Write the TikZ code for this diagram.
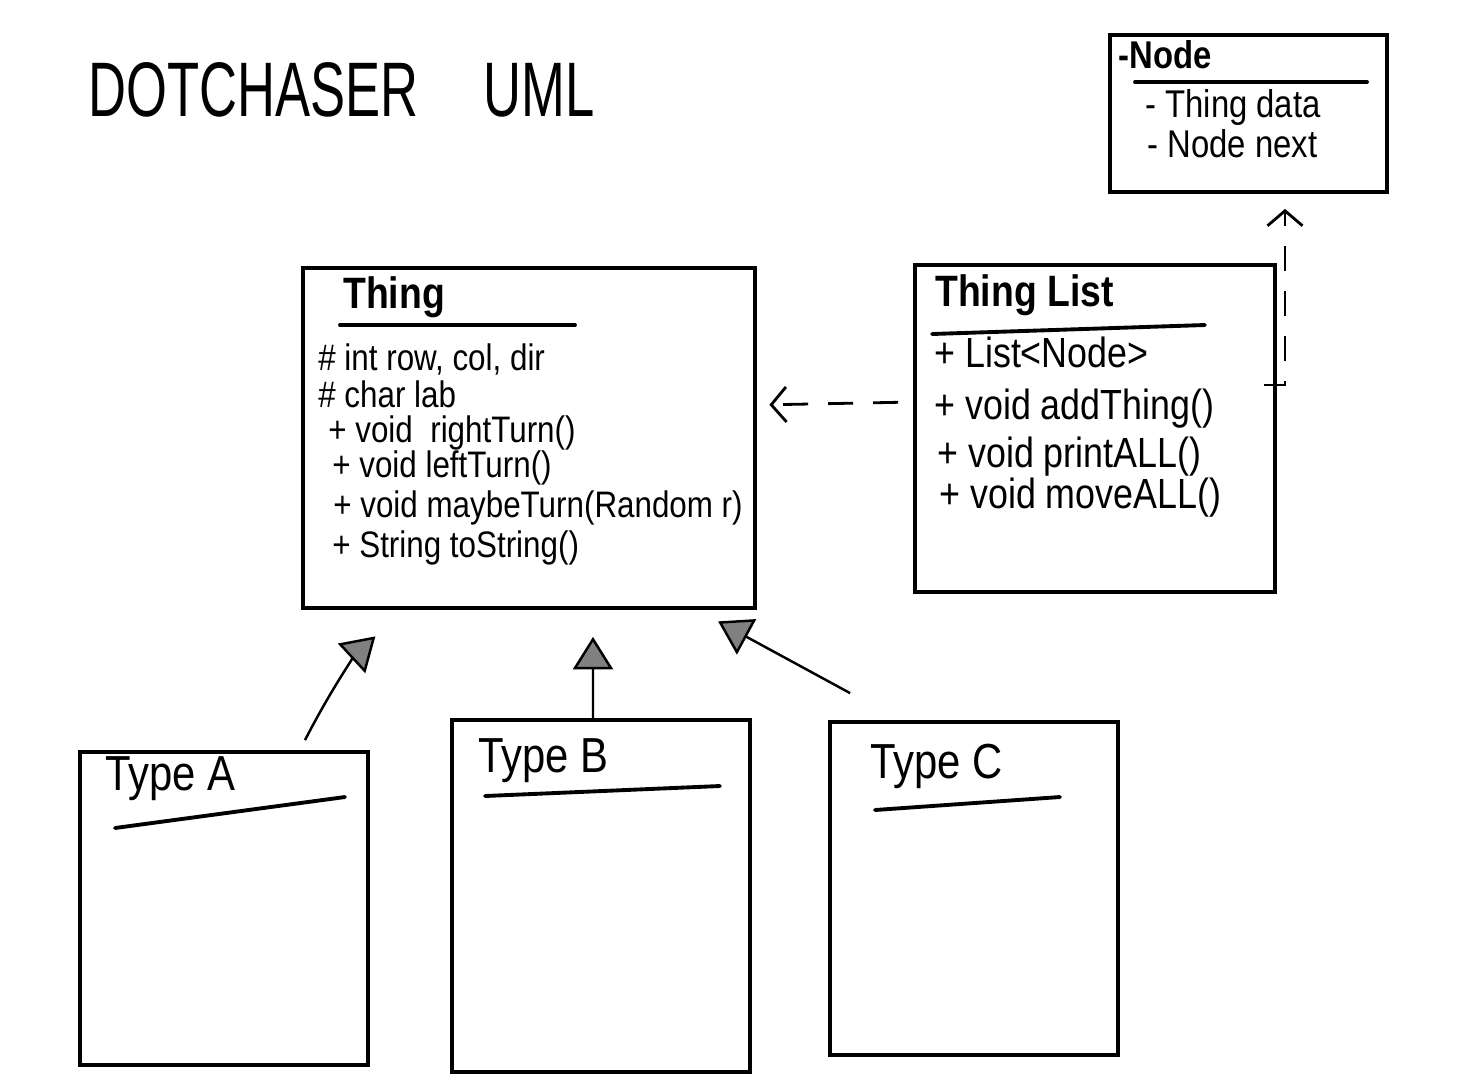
\documentclass[tikz,border=0pt]{standalone}
\usepackage{fontspec}
\setmainfont[FakeStretch=0.85]{Liberation Sans}
\newfontfamily\headingfont[FakeStretch=0.68]{Liberation Sans}
\usetikzlibrary{arrows.meta}

\begin{document}
\begin{tikzpicture}[x=0.02cm, y=-0.02cm,
	classbox/.style={draw, line width=2.2pt, inner sep=0pt},
	divider/.style={line width=2.2pt, line cap=round},
	classname/.style={anchor=base west, inner sep=0pt, font=\fontsize{25}{30}\selectfont\bfseries},
	typename/.style={anchor=base west, inner sep=0pt, font=\fontsize{28}{32}\selectfont},
	member/.style={anchor=base west, inner sep=0pt, font=\fontsize{21}{25}\selectfont},
	dep/.style={dash pattern=on 0.5cm off 0.4cm, line width=1.6pt, -{Straight Barb[length=0.3cm, width=0.7cm]}},
	inherit/.style={line width=1.4pt, -{Triangle[length=0.65cm, width=0.8cm, fill=gray]}}]
	\useasboundingbox (0,0) rectangle (1480,1080);

	% heading
	\node[anchor=west, inner sep=0pt, font=\headingfont\fontsize{44}{50}\selectfont] (heading) at (88,90) {DOTCHASER\hspace{1.3cm}UML};

	% class boxes
	\node[classbox, minimum width=5.54cm, minimum height=3.14cm] (nodebox) at (1248.5,113.5) {};
	\node[classbox, minimum width=9.04cm, minimum height=6.8cm] (thing) at (529,438) {};
	\node[classbox, minimum width=7.2cm, minimum height=6.54cm] (thinglist) at (1095,428.5) {};
	\node[classbox, minimum width=5.76cm, minimum height=6.26cm] (typeA) at (224,908.5) {};
	\node[classbox, minimum width=5.96cm, minimum height=7.04cm] (typeB) at (601,896) {};
	\node[classbox, minimum width=5.76cm, minimum height=6.66cm] (typeC) at (974,888.5) {};

	% names
	\node[anchor=base west, inner sep=0pt, font=\fontsize{22}{26}\selectfont\bfseries] (nodebox-name) at (1118,68) {-Node};
	\node[classname] (thing-name) at (343,308) {Thing};
	\node[classname] (thinglist-name) at (935,306) {Thing List};
	\node[typename] (typeA-name) at (105,790) {Type A};
	\node[typename] (typeB-name) at (478,772) {Type B};
	\node[typename] (typeC-name) at (870,778) {Type C};

	% dividers
	\draw[divider] (1135,82) -- (1367,82);
	\draw[divider] (340,325) -- (575,325);
	\draw[divider] (932,334) -- (1205,325);
	\draw[divider] (115,828) -- (345,797);
	\draw[divider] (485,796) -- (720,786);
	\draw[divider] (875,810) -- (1060,797);

	% members
	\foreach \y/\x/\t [count=\i] in {117/1145/{- Thing data}, 157/1147/{- Node next}}
		\node[member, font=\fontsize{22}{26}\selectfont] (nodebox-m\i) at (\x,\y) {\t};
	\foreach \y/\x/\t [count=\i] in {370/318/{\# int row, col, dir}, 407/318/{\# char lab},
		442/328/{+ void\ \ rightTurn()}, 477/332/{+ void leftTurn()},
		517/333/{+ void maybeTurn(Random r)}, 557/332/{+ String toString()}}
		\node[member] (thing-m\i) at (\x,\y) {\t};
	\foreach \y/\x/\t [count=\i] in {367/934/{+ List<Node>}, 419/934/{+ void addThing()},
		467/937/{+ void printALL()}, 508/939/{+ void moveALL()}}
		\node[member, font=\fontsize{24}{28}\selectfont] (thinglist-m\i) at (\x,\y) {\t};

	% dependencies
	\draw[dep, shorten <=0.3cm, shorten >=0.25cm] ([yshift=0.53cm]thinglist.west) -- ([yshift=0.66cm]thing.east);
	\draw[dep, shorten >=0.3cm] ([xshift=-0.26cm, yshift=0.87cm]thinglist.east) -| ([xshift=0.73cm]nodebox.south);

	% inheritance
	\begin{scope}[inherit]
		\draw[shorten >=0.78cm] ([xshift=1.62cm, yshift=0.2cm]typeA.north) to[bend left=10] ([xshift=-2.5cm]thing.south);
		\draw[shorten >=0.54cm] ([xshift=-0.16cm]typeB.north) -- ([xshift=1.28cm]thing.south);
		\draw[shorten >=0.48cm] ([xshift=0.44cm, yshift=0.54cm]typeC.north west) -- ([xshift=3.36cm]thing.south);
	\end{scope}
\end{tikzpicture}
\end{document}
